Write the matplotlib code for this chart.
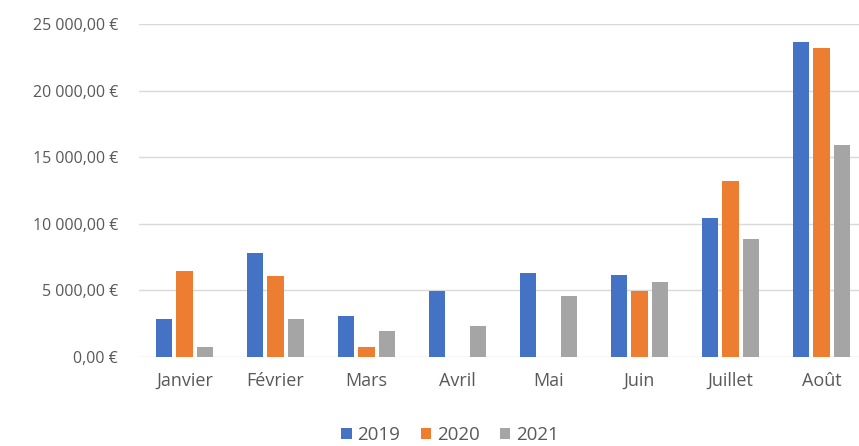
import matplotlib
matplotlib.use("Agg")
import matplotlib.pyplot as plt
import numpy as np
from matplotlib.ticker import FuncFormatter

months = ["Janvier", "Février", "Mars", "Avril", "Mai", "Juin", "Juillet", "Août"]
v2019 = [2850, 7790, 3100, 4930, 6300, 6180, 10410, 23630]
v2020 = [6480, 6060, 730, 0, 0, 4930, 13190, 23200]
v2021 = [730, 2850, 1980, 2350, 4600, 5600, 8860, 15910]
series_names = ["2019", "2020", "2021"]
colors = ["#4472C4", "#ED7D31", "#A5A5A5"]

plt.rcParams['font.family'] = ['Open Sans', 'DejaVu Sans']
txt = "#595959"

fig = plt.figure(figsize=(8.59, 4.46), dpi=100)
ax = fig.add_axes([139/859, 1-357/446, (867-139)/859, (357-24)/446])

x = np.arange(len(months))
w = 0.176
step = 0.22
for i, (vals, name, c) in enumerate(zip([v2019, v2020, v2021], series_names, colors)):
    ax.bar(x + (i-1)*step, vals, width=w, color=c, label=name, zorder=3)

ax.set_xlim(-0.5, len(months)-0.5)
ax.set_ylim(0, 25000)
ax.set_yticks(np.arange(0, 25001, 5000))

def fmt(v, pos):
    s = f"{int(v):,}".replace(",", " ")
    return f"{s},00 €"
ax.yaxis.set_major_formatter(FuncFormatter(fmt))
ax.set_xticks(x)
ax.set_xticklabels(months)

ax.grid(axis='y', color="#D9D9D9", lw=1, zorder=0)
for s in ax.spines.values():
    s.set_visible(False)
ax.tick_params(axis='both', length=0, colors=txt)
ax.tick_params(axis='y', pad=15, labelsize=11.5)
ax.tick_params(axis='x', pad=11, labelsize=13)

leg = fig.legend(loc='center', bbox_to_anchor=(450/859, 1-435/446), ncol=3, frameon=False,
                 fontsize=13.5, handlelength=0.55, handleheight=0.55, handletextpad=0.3,
                 columnspacing=1.1)
for t in leg.get_texts():
    t.set_color(txt)

fig.savefig("out.png", dpi=100)
